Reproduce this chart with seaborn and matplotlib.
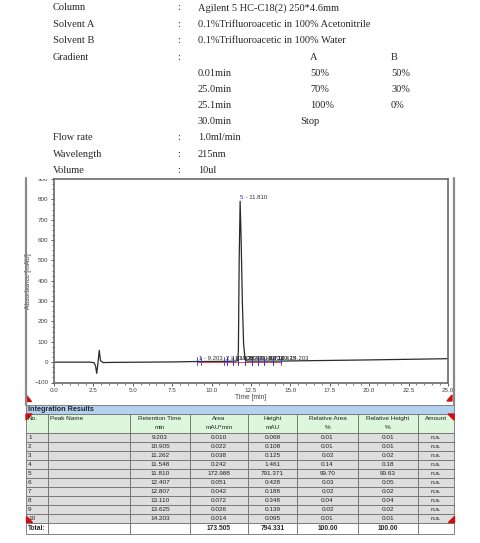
# HPLC report: method header, chromatogram and integration table
import matplotlib
matplotlib.use('Agg')
import matplotlib.pyplot as plt
from matplotlib.patches import Rectangle, Polygon
from matplotlib.ticker import MultipleLocator, FormatStrFormatter
import seaborn as sns
import pandas as pd

# method parameters
method_labels = ['Column', 'Solvent A', 'Solvent B', 'Gradient']
method_values = ['Agilent 5 HC-C18(2) 250*4.6mm',
                 '0.1%Trifluoroacetic in 100% Acetonitrile',
                 '0.1%Trifluoroacetic in 100% Water', '']
gradient_time = ['0.01min', '25.0min', '25.1min', '30.0min']
gradient_a = ['50%', '70%', '100%', 'Stop']
gradient_b = ['50%', '30%', '0%', '']
extra_labels = ['Flow rate', 'Wavelength', 'Volume']
extra_values = ['1.0ml/min', '215nm', '10ul']

# chromatogram trace
trace_time = [0.0, 2.3, 2.55, 2.64, 2.71, 2.78, 2.87, 2.95, 3.1, 4.0, 7.5, 9.0, 9.2, 9.35,
              10.9, 11.26, 11.55, 11.66, 11.70, 11.75, 11.81, 11.87, 11.95, 12.03, 12.12,
              12.25, 12.8, 13.6, 14.2, 15.0, 20.0, 25.0]
trace_abs = [0, 0, -3, -20, -55, -12, 58, 8, -2, -1, 1, 3, 3.5, 3,
             4, 4.5, 5.5, 8, 60, 500, 791, 620, 300, 90, 15,
             5, 5, 5, 5, 6, 11, 17]

# integration results
peak_no = [1, 2, 3, 4, 5, 6, 7, 8, 9, 10]
ret_time = [9.203, 10.905, 11.262, 11.548, 11.810, 12.407, 12.807, 13.110, 13.625, 14.203]
area = [0.010, 0.022, 0.038, 0.242, 172.988, 0.051, 0.042, 0.072, 0.026, 0.014]
height = [0.068, 0.108, 0.125, 1.461, 791.371, 0.428, 0.188, 0.348, 0.139, 0.095]
rel_area = [0.01, 0.01, 0.02, 0.14, 99.70, 0.03, 0.02, 0.04, 0.02, 0.01]
rel_height = [0.01, 0.01, 0.02, 0.18, 99.63, 0.05, 0.02, 0.04, 0.02, 0.01]
total_area, total_height = 173.505, 794.331
total_rel_area, total_rel_height = 100.00, 100.00
# peak integration limits
peak_start = [9.10, 10.80, 11.00, 11.35, 11.66, 12.15, 12.55, 12.95, 13.30, 13.90]
peak_end = [9.30, 11.00, 11.35, 11.66, 12.15, 12.55, 12.95, 13.30, 13.90, 14.40]

sns.set_style('ticks')
plt.rcParams['font.family'] = ['Liberation Sans', 'DejaVu Sans']

W, H = 480, 543
fig = plt.figure(figsize=(W / 100, H / 100), dpi=100)

# ---------------- chromatogram ----------------
ax = fig.add_axes([54 / W, 1 - 382.5 / H, 394 / W, (382.5 - 179) / H])
df = pd.DataFrame({'time': trace_time, 'abs': trace_abs})
sns.lineplot(data=df, x='time', y='abs', ax=ax, color='#2a2a2a', lw=0.9,
             estimator=None, sort=False)
ax.set_xlim(0, 25)
ax.set_ylim(-100, 900)
ax.xaxis.set_major_locator(MultipleLocator(2.5))
ax.xaxis.set_minor_locator(MultipleLocator(0.5))
ax.yaxis.set_major_locator(MultipleLocator(100))
ax.yaxis.set_minor_locator(MultipleLocator(25))
ax.xaxis.set_major_formatter(FormatStrFormatter('%.1f'))
ax.tick_params(which='major', direction='out', length=2.5, width=0.6,
               labelsize=4.5, colors='#404040', pad=1.5)
ax.tick_params(which='minor', direction='out', length=1.5, width=0.5, colors='#404040')
for s in ax.spines.values():
    s.set_color('#6a6a6a')
    s.set_linewidth(1.2)
ax.set_xlabel('Time [min]', fontsize=4.8, color='#404040', labelpad=1)
ax.set_ylabel('Absorbance [mAU]', fontsize=4.8, color='#404040', labelpad=2)

# baseline and peak limits
base_y = 3
ax.plot([peak_start[0], peak_end[-1]], [base_y, base_y], color='#e03030', lw=0.6)
for s0, s1 in zip(peak_start, peak_end):
    ax.plot([s0, s0], [-12, 25], color='#3030e0', lw=0.6)
    ax.plot([s1, s1], [-12, 25], color='#3030e0', lw=0.6)
for n, rt, h in zip(peak_no, ret_time, height):
    if n == 5:
        ax.text(rt, h + 3, str(n), fontsize=4.3, color='#3030c0', ha='left', va='bottom')
        ax.text(rt + 0.22, h + 3, ' - %.3f' % rt, fontsize=4.3, color='#303030',
                ha='left', va='bottom')
    else:
        ax.text(rt, 8, '%d - %.3f' % (n, rt), fontsize=4.3, color='#303030',
                ha='left', va='bottom')

# ---------------- overlay in pixel coordinates ----------------
ov = fig.add_axes([0, 0, 1, 1], facecolor='none')
ov.set_xlim(0, W)
ov.set_ylim(H, 0)
ov.axis('off')

serif = ['Liberation Serif', 'DejaVu Serif']
row_y = [8, 24.5, 40.7, 57]
for lab, val, y in zip(method_labels, method_values, row_y):
    ov.text(53, y, lab, fontsize=7.5, family=serif, va='center')
    ov.text(177, y, ':', fontsize=7.5, family=serif, va='center')
    ov.text(198, y, val, fontsize=7.5, family=serif, va='center')
ov.text(310, 57, 'A', fontsize=7.5, family=serif, va='center')
ov.text(391, 57, 'B', fontsize=7.5, family=serif, va='center')
for i, (t, a, b) in enumerate(zip(gradient_time, gradient_a, gradient_b)):
    y = 73 + 16.3 * i
    ov.text(198, y, t, fontsize=7.5, family=serif, va='center')
    ov.text(300 if a == 'Stop' else 310, y, a, fontsize=7.5, family=serif, va='center')
    ov.text(391, y, b, fontsize=7.5, family=serif, va='center')
for i, (lab, val) in enumerate(zip(extra_labels, extra_values)):
    y = 138 + 16.2 * i
    ov.text(53, y, lab, fontsize=7.5, family=serif, va='center')
    ov.text(177, y, ':', fontsize=7.5, family=serif, va='center')
    ov.text(198, y, val, fontsize=7.5, family=serif, va='center')

# clipped top of the chart panel
ov.add_patch(Rectangle((28, 172), 25, 6.5, facecolor='white', edgecolor='none', zorder=5))
# outer frame of chromatogram panel
ov.plot([26, 26], [178, 405], color='#8a8a8a', lw=1.6)
ov.plot([454, 454], [178, 405], color='#8a8a8a', lw=1.6)
ov.add_patch(Polygon([[26, 395], [26, 401], [31, 401]], color='#d01010'))
ov.add_patch(Polygon([[452, 401], [452, 395], [447, 401]], color='#d01010'))

# ---------------- integration table ----------------
col_x = [26, 48, 130, 190, 248, 297, 358, 418, 454]
ec = '#707070'
ov.add_patch(Rectangle((26, 405), 428, 9, facecolor='#b3d1ef', edgecolor=ec, lw=0.6))
ov.text(28, 409.8, 'Integration Results', fontsize=5.2, fontweight='bold', va='center')

headers = [('No.', ''), ('Peak Name', ''), ('Retention Time', 'min'), ('Area', 'mAU*min'),
           ('Height', 'mAU'), ('Relative Area', '%'), ('Relative Height', '%'), ('Amount', '')]
for j, (h1, h2) in enumerate(headers):
    x0, x1 = col_x[j], col_x[j + 1]
    ov.add_patch(Rectangle((x0, 414), x1 - x0, 19.3, facecolor='#dcf7dc', edgecolor=ec, lw=0.6))
    if j < 2:
        ov.text(x0 + 2, 418.5, h1, fontsize=4.6, va='center', color='#202020')
    else:
        xc = (x0 + x1) / 2
        ov.text(xc, 418.5, h1, fontsize=4.6, va='center', ha='center', color='#202020')
        ov.text(xc, 427.5, h2, fontsize=4.6, va='center', ha='center', color='#202020')

for i in range(len(peak_no)):
    y0 = 433.3 + 8.94 * i
    cells = [str(peak_no[i]), '', '%.3f' % ret_time[i], '%.3f' % area[i],
             '%.3f' % height[i], '%.2f' % rel_area[i], '%.2f' % rel_height[i], 'n.a.']
    for j, txt in enumerate(cells):
        x0, x1 = col_x[j], col_x[j + 1]
        ov.add_patch(Rectangle((x0, y0), x1 - x0, 8.94, facecolor='#dedede', edgecolor=ec, lw=0.6))
        if j == 0:
            ov.text(x0 + 2, y0 + 4.6, txt, fontsize=4.6, va='center', color='#202020')
        else:
            ov.text((x0 + x1) / 2, y0 + 4.6, txt, fontsize=4.6, va='center', ha='center',
                    color='#202020')

y0 = 433.3 + 8.94 * len(peak_no)
tot = ['Total:', '', '', '%.3f' % total_area, '%.3f' % total_height,
       '%.2f' % total_rel_area, '%.2f' % total_rel_height, '']
for j, txt in enumerate(tot):
    x0, x1 = col_x[j], col_x[j + 1]
    ov.add_patch(Rectangle((x0, y0), x1 - x0, 11, facecolor='white', edgecolor=ec, lw=0.6))
    if j == 0:
        ov.text(x0 + 1.5, y0 + 5.5, txt, fontsize=4.8, fontweight='bold', va='center')
    else:
        ov.text((x0 + x1) / 2, y0 + 5.5, txt, fontsize=4.8, fontweight='bold', va='center',
                ha='center')

# red corner markers
ov.add_patch(Polygon([[26, 414], [26, 420], [32, 414]], color='#d01010'))
ov.add_patch(Polygon([[454, 414], [454, 420], [448, 414]], color='#d01010'))
ov.add_patch(Polygon([[26, 516], [26, 522], [32, 522]], color='#d01010'))
ov.add_patch(Polygon([[454, 516], [454, 522], [448, 522]], color='#d01010'))

fig.savefig('out.png', dpi=100)
